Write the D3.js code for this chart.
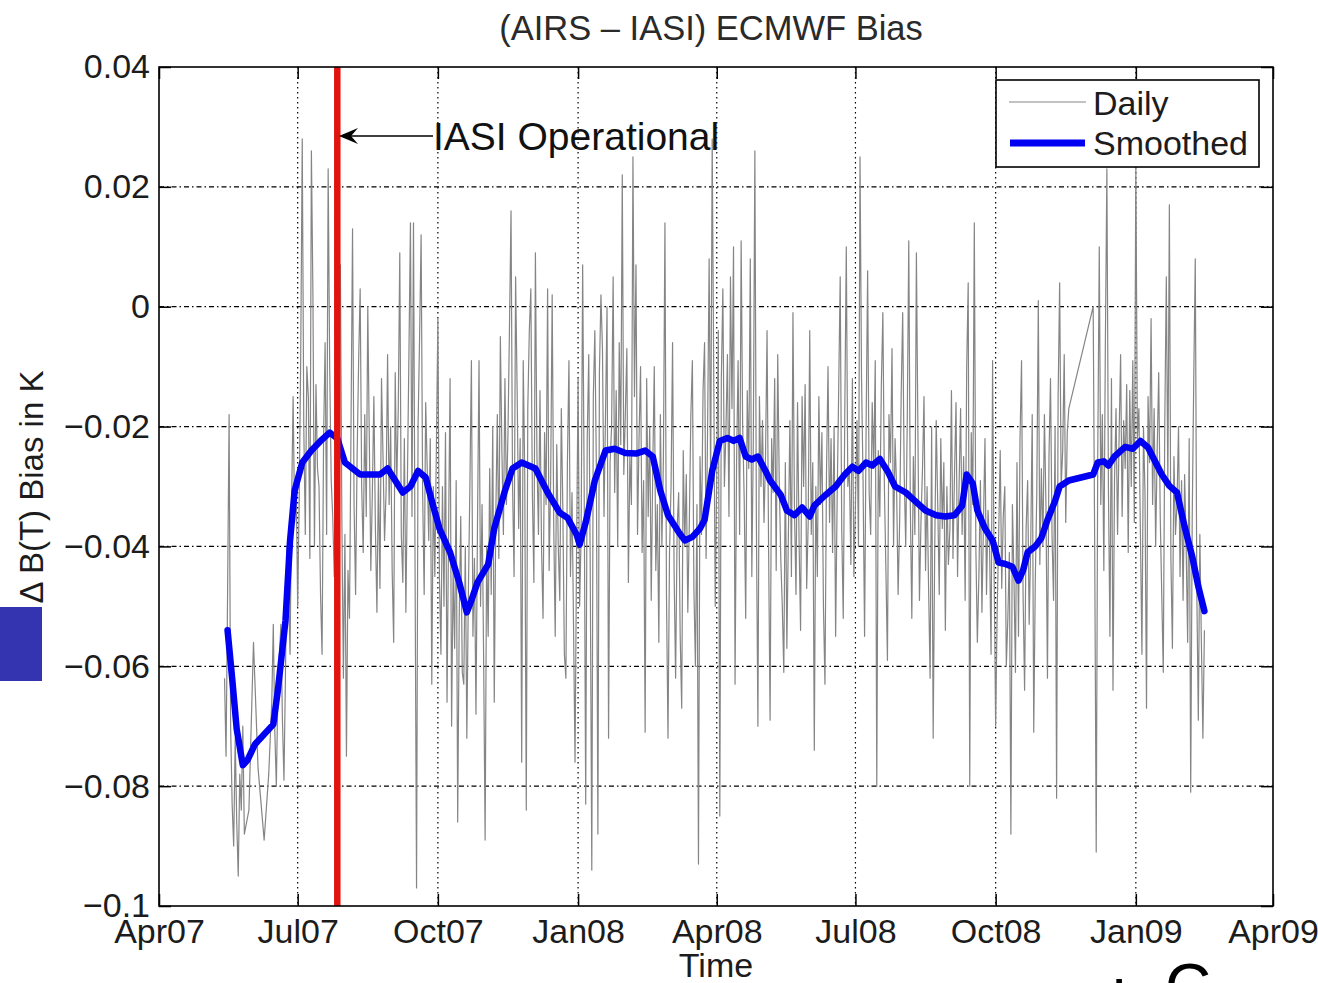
<!DOCTYPE html>
<html>
<head>
<meta charset="utf-8">
<script src="https://cdn.jsdelivr.net/npm/d3@7"></script>
<style>
  html, body { margin: 0; padding: 0; background: #fff; overflow: hidden; }
  svg { display: block; font-family: "Liberation Sans", Arial, Helvetica, sans-serif; }
</style>
</head>
<body>
<script>

/* ---------------------------- */
/* VARIABLES                    */
/* ---------------------------- */

const w = 1318; // Width of canvas
const h = 983;  // Height of canvas

// Plot box (axes area) inside the canvas
let plot = {left: 159, right: 1273, top: 67, bottom: 906};

const parseDay = d3.timeParse("%Y-%m-%d");

// Axis ticks
const xDomain = ["2007-04-01", "2009-04-01"];
const xTickDates = ["2007-04-01", "2007-07-01", "2007-10-01", "2008-01-01", "2008-04-01",
                    "2008-07-01", "2008-10-01", "2009-01-01", "2009-04-01"];
const xTickLabels = ["Apr07", "Jul07", "Oct07", "Jan08", "Apr08", "Jul08", "Oct08", "Jan09", "Apr09"];
const yDomain = [-0.1, 0.04];
const yTickValues = [0.04, 0.02, 0, -0.02, -0.04, -0.06, -0.08, -0.1];
const yTickLabels = ["0.04", "0.02", "0", "\u22120.02", "\u22120.04", "\u22120.06", "\u22120.08", "\u22120.1"];

// Date IASI became operational (red marker)
const iasiOperationalDate = "2007-07-27";

// Daily (AIRS - IASI) bias in K.
// Run A: consecutive days from dailyStartA
const dailyStartA = "2007-05-14";
const dailyValuesA = [-0.062, -0.075, -0.048, -0.018, -0.070, -0.083, -0.090, -0.072, -0.086, -0.095,
                      -0.078, -0.084, -0.070, -0.088];
// Sparse days (few matchups early June 2007)
const sparseDates = ["2007-05-30", "2007-06-02", "2007-06-05", "2007-06-09", "2007-06-12"];
const sparseValues = [-0.084, -0.056, -0.077, -0.089, -0.078];
// Run C: consecutive days from dailyStartC to 2008-11-18
const dailyStartC = "2007-06-14";
const dailyValuesC = [
  // Jun 14-30 2007
  -0.066, -0.053, -0.071, -0.080, -0.064, -0.058, -0.053, -0.069, -0.079, -0.061, -0.040, -0.047, -0.058, -0.033, -0.015, -0.036, -0.029,
  // Jul 2007
  -0.050, -0.032, -0.008, 0.028, -0.020, -0.038, -0.010, -0.015, -0.042, 0.026, 0.002, -0.040, -0.013, -0.027, -0.030, -0.048,
  -0.058, -0.022, -0.006, -0.038, 0.023, -0.010, -0.029, -0.035, -0.045, -0.019, -0.027, -0.003, 0.007, -0.036, -0.062,
  // Aug 2007
  -0.038, -0.075, -0.044, -0.052, -0.020, 0.013, -0.033, -0.048, -0.025, -0.009, 0.003, -0.030, -0.041, -0.018, -0.035, 0.000,
  -0.022, -0.044, -0.031, -0.015, -0.037, -0.051, -0.028, -0.047, -0.012, -0.025, -0.039, -0.031, -0.008, -0.033, -0.020,
  // Sep 2007
  -0.044, -0.056, -0.011, -0.030, -0.017, 0.009, -0.038, -0.046, -0.022, -0.051, -0.029, -0.008, 0.014, -0.035, 0.014,
  -0.042, -0.097, -0.020, -0.005, 0.012, -0.031, -0.048, -0.016, -0.027, -0.039, -0.022, -0.063, -0.030, -0.045, -0.024,
  // Oct 2007
  -0.002, -0.045, -0.058, -0.030, -0.050, -0.021, -0.066, -0.038, -0.012, -0.070, -0.044, -0.057, -0.029, -0.086, -0.052, -0.035,
  -0.061, -0.063, -0.040, -0.072, -0.048, -0.030, -0.009, -0.055, -0.042, -0.068, -0.036, -0.009, -0.050, -0.033, -0.058,
  // Nov 2007
  -0.089, -0.040, -0.055, -0.027, -0.048, -0.020, -0.066, -0.035, -0.018, -0.042, -0.005, -0.024, -0.038, -0.012, -0.033,
  -0.021, -0.003, 0.016, -0.030, -0.045, 0.005, -0.014, -0.037, -0.022, -0.076, -0.009, -0.028, -0.084, -0.017, -0.004,
  // Dec 2007
  0.003, -0.031, -0.046, 0.009, -0.025, -0.038, -0.014, -0.040, -0.052, -0.021, -0.033, 0.003, -0.044, -0.029, 0.002, -0.036,
  -0.055, -0.023, -0.040, -0.049, -0.017, -0.034, -0.058, -0.062, -0.026, -0.009, -0.045, -0.031, -0.053, -0.076, -0.041,
  // Jan 2008
  -0.012, -0.050, -0.038, 0.007, -0.030, -0.083, -0.022, -0.008, -0.045, -0.094, -0.015, -0.004, -0.027, -0.088, -0.011, 0.002,
  -0.007, -0.035, -0.018, 0.000, -0.072, -0.026, -0.020, 0.005, -0.031, -0.014, -0.040, -0.006, -0.023, 0.022, -0.028,
  // Feb 2008
  -0.018, -0.007, -0.046, -0.025, -0.033, 0.025, -0.015, 0.007, -0.038, -0.022, -0.010, -0.041, -0.029, -0.071, -0.012,
  -0.035, -0.020, -0.049, -0.027, -0.010, -0.044, -0.033, -0.056, -0.018, -0.040, -0.025, 0.014, -0.048, -0.072,
  // Mar 2008
  -0.041, -0.030, -0.006, -0.044, -0.062, -0.037, -0.031, -0.055, -0.067, -0.024, -0.040, -0.028, -0.051, -0.036, -0.018, -0.009,
  -0.047, -0.060, -0.033, -0.093, -0.025, -0.038, -0.014, -0.006, -0.042, -0.020, 0.008, -0.030, 0.028, -0.011, -0.050,
  // Apr 2008
  -0.028, -0.004, -0.085, -0.012, 0.003, -0.030, -0.021, -0.008, -0.035, 0.005, -0.017, 0.010, -0.063, -0.026, -0.009,
  -0.038, 0.011, -0.020, -0.032, -0.052, -0.014, -0.027, 0.008, -0.045, -0.022, 0.026, -0.036, -0.070, -0.015, -0.030,
  // May 2008
  -0.019, -0.036, -0.025, -0.004, -0.040, -0.069, -0.022, -0.031, -0.012, -0.044, -0.008, -0.029, -0.042, -0.050, -0.061, -0.026,
  -0.057, -0.038, -0.019, -0.045, -0.001, -0.034, -0.048, -0.016, -0.039, -0.054, -0.015, -0.030, -0.013, -0.047, -0.036,
  // Jun 2008
  -0.004, -0.038, -0.026, -0.074, -0.030, -0.045, -0.015, -0.033, -0.021, -0.050, -0.063, -0.028, -0.010, -0.036, -0.022,
  -0.041, -0.020, -0.055, -0.032, -0.014, 0.005, -0.037, -0.052, -0.018, 0.010, -0.030, -0.027, -0.043, -0.012, -0.045,
  // Jul 2008
  -0.033, -0.019, -0.040, 0.025, -0.012, -0.029, -0.055, -0.020, 0.006, -0.031, -0.038, -0.016, -0.027, -0.009, -0.080, -0.024,
  -0.035, -0.013, -0.001, -0.030, -0.044, -0.059, -0.018, -0.026, -0.007, -0.040, -0.022, -0.030, -0.048, -0.036, -0.015,
  // Aug 2008
  -0.001, -0.028, -0.040, -0.019, 0.011, -0.033, -0.052, -0.025, -0.038, 0.009, -0.021, -0.049, -0.036, -0.027, -0.015, -0.044,
  -0.030, -0.047, -0.062, -0.020, -0.072, -0.041, -0.019, -0.033, -0.048, -0.022, -0.037, -0.026, -0.054, -0.030, -0.043,
  // Sep 2008
  -0.037, -0.014, -0.042, -0.028, -0.016, -0.045, -0.030, -0.017, -0.038, -0.025, -0.049, -0.010, 0.004, -0.080, -0.021,
  -0.033, 0.014, -0.040, -0.056, -0.045, -0.029, -0.051, -0.036, -0.022, -0.048, -0.034, -0.040, -0.058, -0.009, -0.044,
  // Oct 2008
  -0.070, -0.051, -0.038, -0.024, -0.047, -0.035, -0.030, -0.060, -0.052, -0.041, -0.088, -0.033, -0.045, -0.061, -0.026, -0.055,
  -0.022, -0.009, -0.048, -0.064, -0.037, -0.029, -0.053, -0.040, -0.018, -0.071, -0.046, -0.031, 0.001, -0.043, -0.027,
  // Nov 1-18 2008
  -0.040, -0.018, -0.033, -0.062, -0.025, -0.012, -0.038, -0.049, -0.020, -0.082, -0.015, 0.004, -0.030, -0.024, -0.008,
  -0.036, -0.021, -0.017
];
// Run D: consecutive days after the Nov/Dec 2008 data gap
const dailyStartD = "2008-12-04";
const dailyValuesD = [
  // Dec 4-31 2008
  0.000, -0.040, -0.091, -0.025, 0.010, -0.033, -0.018, -0.044, -0.006, 0.023, -0.030, -0.055, -0.012, -0.064,
  -0.029, -0.017, -0.038, -0.022, -0.008, -0.035, -0.019, -0.027, -0.013, -0.041, -0.014, -0.030, -0.009, -0.036,
  // Jan 2009
  0.024, -0.022, -0.017, -0.038, -0.058, -0.020, -0.031, -0.067, -0.015, -0.026, -0.002, -0.033, -0.017, -0.040, -0.024, -0.011,
  -0.035, -0.048, -0.061, -0.019, 0.005, -0.030, 0.017, -0.042, -0.057, -0.025, -0.038, -0.033, -0.020, -0.045, -0.029,
  // Feb 1-15 2009
  -0.049, -0.028, -0.040, -0.056, -0.022, -0.081, -0.035, -0.012, 0.008, -0.047, -0.069, -0.038, -0.056, -0.072, -0.054
];

// Smoothed bias (K)
const smoothDates = [
  "2007-05-16", "2007-05-19", "2007-05-22", "2007-05-26", "2007-05-29",
  "2007-06-03", "2007-06-15", "2007-06-18", "2007-06-23", "2007-06-26", "2007-06-29",
  "2007-07-04", "2007-07-10", "2007-07-16", "2007-07-22", "2007-07-27",
  "2007-08-01", "2007-08-06", "2007-08-11", "2007-08-17", "2007-08-24", "2007-08-29",
  "2007-09-03", "2007-09-08", "2007-09-13", "2007-09-18", "2007-09-23", "2007-09-27",
  "2007-10-02", "2007-10-09", "2007-10-15", "2007-10-20", "2007-10-23", "2007-10-27",
  "2007-11-03", "2007-11-07", "2007-11-14", "2007-11-19", "2007-11-25",
  "2007-12-04", "2007-12-12", "2007-12-20", "2007-12-25", "2007-12-31",
  "2008-01-02", "2008-01-06", "2008-01-12", "2008-01-19", "2008-01-25",
  "2008-02-01", "2008-02-08", "2008-02-14", "2008-02-19", "2008-02-24", "2008-02-29",
  "2008-03-07", "2008-03-11", "2008-03-16", "2008-03-21", "2008-03-24", "2008-03-29",
  "2008-04-03", "2008-04-08", "2008-04-12", "2008-04-16", "2008-04-20", "2008-04-24", "2008-04-28",
  "2008-05-03", "2008-05-06", "2008-05-13", "2008-05-17", "2008-05-22", "2008-05-27",
  "2008-06-01", "2008-06-04", "2008-06-11", "2008-06-18", "2008-06-24", "2008-06-29",
  "2008-07-03", "2008-07-08", "2008-07-12", "2008-07-17", "2008-07-22", "2008-07-27",
  "2008-08-03", "2008-08-09", "2008-08-16", "2008-08-23", "2008-08-29",
  "2008-09-04", "2008-09-09", "2008-09-12", "2008-09-16", "2008-09-19", "2008-09-24", "2008-09-29",
  "2008-10-03", "2008-10-07", "2008-10-12", "2008-10-16", "2008-10-19", "2008-10-22", "2008-10-27", "2008-10-31",
  "2008-11-04", "2008-11-09", "2008-11-12", "2008-11-18",
  "2008-12-04", "2008-12-07", "2008-12-11", "2008-12-14", "2008-12-18", "2008-12-25", "2008-12-30",
  "2009-01-04", "2009-01-09", "2009-01-14", "2009-01-18", "2009-01-23", "2009-01-28",
  "2009-02-02", "2009-02-07", "2009-02-11", "2009-02-15"
];
const smoothValues = [
  -0.054, -0.062, -0.0705, -0.0765, -0.0757,
  -0.073, -0.0697, -0.064, -0.0524, -0.039, -0.0307,
  -0.026, -0.024, -0.0224, -0.021, -0.022,
  -0.026, -0.027, -0.028, -0.028, -0.028, -0.027,
  -0.029, -0.031, -0.030, -0.0274, -0.0285, -0.0324,
  -0.037, -0.041, -0.046, -0.051, -0.049, -0.046,
  -0.043, -0.037, -0.0307, -0.027, -0.026,
  -0.027, -0.031, -0.0344, -0.0352, -0.038,
  -0.0397, -0.036, -0.029, -0.024, -0.0237,
  -0.0244, -0.0245, -0.024, -0.025, -0.0307, -0.0348,
  -0.0376, -0.039, -0.0384, -0.037, -0.0356, -0.0274,
  -0.0224, -0.0219, -0.0224, -0.0219, -0.025, -0.0255, -0.025,
  -0.0274, -0.029, -0.0314, -0.034, -0.0348, -0.0335,
  -0.035, -0.0332, -0.0315, -0.030, -0.028, -0.0267,
  -0.0274, -0.026, -0.0265, -0.0254, -0.0274, -0.030,
  -0.031, -0.0324, -0.034, -0.0348, -0.035,
  -0.0348, -0.0332, -0.028, -0.0295, -0.034, -0.037, -0.039,
  -0.0427, -0.0429, -0.0434, -0.0457, -0.044, -0.041, -0.040, -0.0386,
  -0.0356, -0.0324, -0.030, -0.029,
  -0.028, -0.026, -0.0258, -0.0265, -0.025, -0.0234, -0.0237,
  -0.0224, -0.0235, -0.026, -0.028, -0.0299, -0.031,
  -0.0367, -0.0417, -0.0467, -0.0508
];

/* ---------------------------- */
/* DATA PREP                    */
/* ---------------------------- */

// Consecutive daily values starting at a given date
function runOfDays(start, values) {
    const t0 = parseDay(start);
    return values.map((v, i) => ({date: d3.timeDay.offset(t0, i), value: v}));
}

let daily = [].concat(
    runOfDays(dailyStartA, dailyValuesA),
    sparseDates.map((d, i) => ({date: parseDay(d), value: sparseValues[i]})),
    runOfDays(dailyStartC, dailyValuesC),
    runOfDays(dailyStartD, dailyValuesD)
);
let smooth = smoothDates.map((d, i) => ({date: parseDay(d), value: smoothValues[i]}));

/* ---------------------------- */
/* CANVAS                       */
/* ---------------------------- */

let svg = d3.select("body")
    .append("svg")
        .attr("width", w)
        .attr("height", h);

svg.append("rect")
    .attr("width", w)
    .attr("height", h)
    .attr("fill", "#fff");

// Scales
let x = d3.scaleTime()
    .domain(xDomain.map(parseDay))
    .range([plot.left, plot.right]);
let y = d3.scaleLinear()
    .domain(yDomain)
    .range([plot.bottom, plot.top]);

/* ---------------------------- */
/* GRID                         */
/* ---------------------------- */

let grid = svg.append("g").attr("stroke", "#000").attr("stroke-width", 1.2);

grid.selectAll(".hgrid")
    .data(yTickValues.slice(1, -1))
    .enter()
    .append("line")
        .attr("x1", plot.left)
        .attr("x2", plot.right)
        .attr("y1", d => y(d))
        .attr("y2", d => y(d))
        .attr("stroke-dasharray", "5,3,1.5,3");

grid.selectAll(".vgrid")
    .data(xTickDates.slice(1, -1).map(parseDay))
    .enter()
    .append("line")
        .attr("x1", d => x(d))
        .attr("x2", d => x(d))
        .attr("y1", plot.top)
        .attr("y2", plot.bottom)
        .attr("stroke-dasharray", "1.5,3.5");

/* ---------------------------- */
/* SERIES                       */
/* ---------------------------- */

let line = d3.line()
    .x(d => x(d.date))
    .y(d => y(d.value));

// Daily (thin grey)
svg.append("path")
    .datum(daily)
    .attr("d", line)
    .attr("fill", "none")
    .attr("stroke", "#858585")
    .attr("stroke-width", 1.2)
    .attr("stroke-linejoin", "round");

// Smoothed (thick blue)
svg.append("path")
    .datum(smooth)
    .attr("d", line)
    .attr("fill", "none")
    .attr("stroke", "#0000f2")
    .attr("stroke-width", 6.5)
    .attr("stroke-linejoin", "round")
    .attr("stroke-linecap", "round");

// IASI operational marker (red vertical)
svg.append("line")
    .attr("x1", x(parseDay(iasiOperationalDate)))
    .attr("x2", x(parseDay(iasiOperationalDate)))
    .attr("y1", plot.top)
    .attr("y2", plot.bottom)
    .attr("stroke", "#e2130f")
    .attr("stroke-width", 6.5);

/* ---------------------------- */
/* AXES                         */
/* ---------------------------- */

// Box around axes
svg.append("rect")
    .attr("x", plot.left)
    .attr("y", plot.top)
    .attr("width", plot.right - plot.left)
    .attr("height", plot.bottom - plot.top)
    .attr("fill", "none")
    .attr("stroke", "#000")
    .attr("stroke-width", 1.6);

function styleAxis(g) {
    g.select(".domain").remove();
    g.attr("font-family", null).attr("font-size", null);
    g.selectAll(".tick line").attr("stroke", "#000").attr("stroke-width", 1.5);
    g.selectAll(".tick text").attr("fill", "#1c1c1c").style("font-size", "34px");
}

let xTicks = xTickDates.map(parseDay);

svg.append("g")
    .attr("transform", "translate(0," + plot.bottom + ")")
    .call(d3.axisBottom(x)
        .tickValues(xTicks)
        .tickFormat((d, i) => xTickLabels[i])
        .tickSizeInner(-12)
        .tickSizeOuter(0)
        .tickPadding(13))
    .call(styleAxis);

svg.append("g")
    .attr("transform", "translate(0," + plot.top + ")")
    .call(d3.axisTop(x).tickValues(xTicks).tickFormat("").tickSizeInner(-12).tickSizeOuter(0))
    .call(styleAxis);

svg.append("g")
    .attr("transform", "translate(" + plot.left + ",0)")
    .call(d3.axisLeft(y)
        .tickValues(yTickValues)
        .tickFormat((d, i) => yTickLabels[i])
        .tickSizeInner(-12)
        .tickSizeOuter(0)
        .tickPadding(9))
    .call(styleAxis);

svg.append("g")
    .attr("transform", "translate(" + plot.right + ",0)")
    .call(d3.axisRight(y).tickValues(yTickValues).tickFormat("").tickSizeInner(-12).tickSizeOuter(0))
    .call(styleAxis);

// Axis titles
svg.append("text")
    .attr("x", 716)
    .attr("y", 977)
    .attr("text-anchor", "middle")
    .attr("fill", "#1c1c1c")
    .style("font-size", "34px")
    .text("Time");

svg.append("text")
    .attr("transform", "translate(43,487) rotate(-90)")
    .attr("text-anchor", "middle")
    .attr("fill", "#1c1c1c")
    .style("font-size", "33px")
    .text("\u0394 B(T) Bias in K");

// Title
svg.append("text")
    .attr("x", 711)
    .attr("y", 40)
    .attr("text-anchor", "middle")
    .attr("fill", "#2a2a2a")
    .style("font-size", "34.5px")
    .text("(AIRS \u2013 IASI) ECMWF Bias");

/* ---------------------------- */
/* ANNOTATION                   */
/* ---------------------------- */

let ay = 136;
svg.append("line")
    .attr("x1", 350)
    .attr("x2", 433)
    .attr("y1", ay)
    .attr("y2", ay)
    .attr("stroke", "#000")
    .attr("stroke-width", 1.6);
svg.append("path")
    .attr("d", "M339," + ay + " L358," + (ay - 8) + " L351," + ay + " L358," + (ay + 8) + " Z")
    .attr("fill", "#000");
svg.append("text")
    .attr("x", 433)
    .attr("y", 150)
    .attr("fill", "#111")
    .style("font-size", "39px")
    .text("IASI Operational");

/* ---------------------------- */
/* LEGEND                       */
/* ---------------------------- */

let legend = svg.append("g");
legend.append("rect")
    .attr("x", 996)
    .attr("y", 80)
    .attr("width", 263)
    .attr("height", 87)
    .attr("fill", "#fff")
    .attr("stroke", "#000")
    .attr("stroke-width", 1.6);
legend.append("line")
    .attr("x1", 1009).attr("x2", 1086)
    .attr("y1", 102).attr("y2", 102)
    .attr("stroke", "#858585")
    .attr("stroke-width", 1.2);
legend.append("line")
    .attr("x1", 1010).attr("x2", 1085)
    .attr("y1", 143).attr("y2", 143)
    .attr("stroke", "#0000f2")
    .attr("stroke-width", 7);
legend.append("text")
    .attr("x", 1093).attr("y", 115)
    .attr("fill", "#1c1c1c")
    .style("font-size", "34px")
    .text("Daily");
legend.append("text")
    .attr("x", 1093).attr("y", 155)
    .attr("fill", "#1c1c1c")
    .style("font-size", "34px")
    .text("Smoothed");

/* ---------------------------- */
/* SLIDE LEFTOVERS              */
/* ---------------------------- */

svg.append("rect")
    .attr("x", 0)
    .attr("y", 607)
    .attr("width", 42)
    .attr("height", 74)
    .attr("fill", "#3434b0");

svg.append("text")
    .attr("x", 1112).attr("y", 1026)
    .attr("fill", "#000")
    .style("font-size", "64px")
    .text("l");
svg.append("text")
    .attr("x", 1165).attr("y", 1009)
    .attr("fill", "#000")
    .style("font-size", "64px")
    .text("C");

</script>
</body>
</html>
